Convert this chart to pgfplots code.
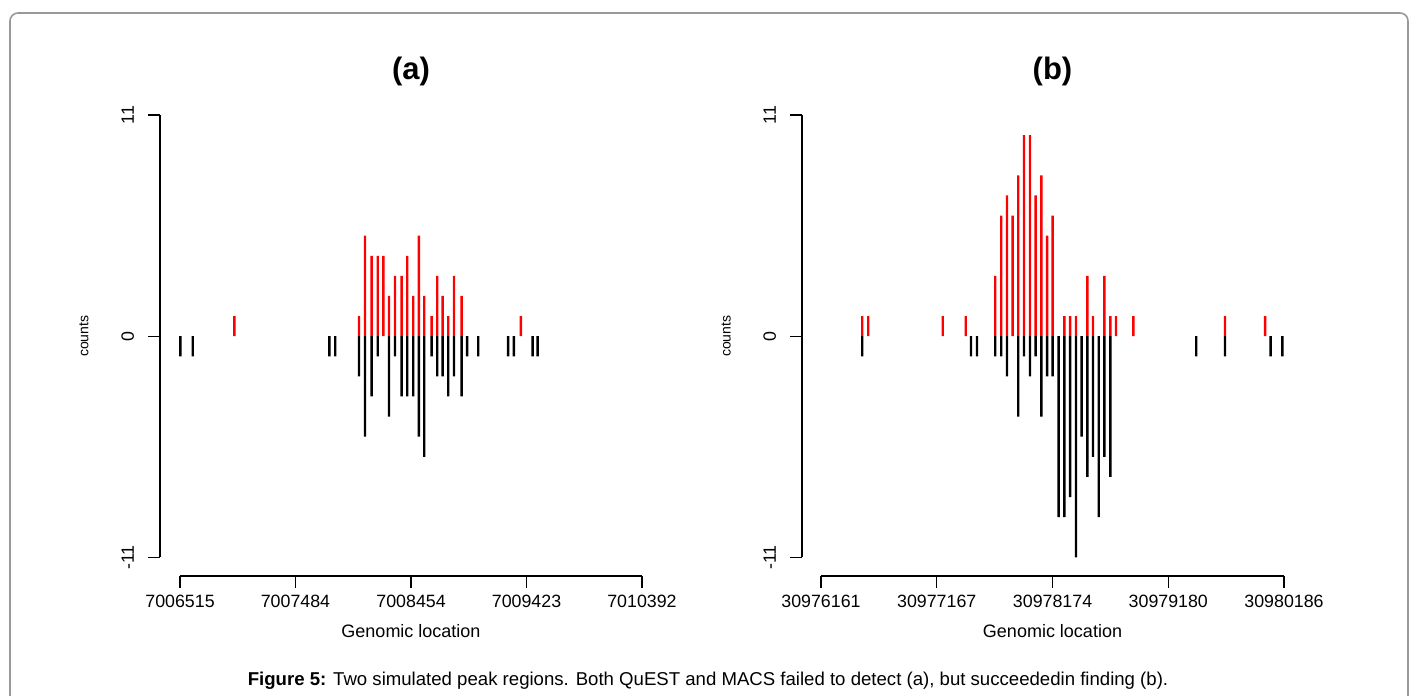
\documentclass[border=0pt]{standalone}
\usepackage{pgfplots}
\pgfplotsset{compat=1.18}
\usepackage{fontspec}
\setmainfont{Liberation Sans}
\pgfplotstableread{
x y
456 1
1502 1
1552 5
1608 4
1659 4
1706 4
1754 2
1804 3
1860 3
1907 4
1957 2
2005 5
2050 2
2112 1
2159 3
2204 2
2251 1
2299 3
2363 2
2861 1
}\posA
\pgfplotstableread{
x y
3 -1
107 -1
1253 -1
1303 -1
1502 -2
1552 -5
1608 -3
1659 -1
1754 -4
1804 -1
1860 -3
1907 -3
1957 -3
2005 -5
2050 -6
2112 -1
2159 -2
2204 -2
2251 -3
2299 -2
2363 -3
2410 -1
2503 -1
2754 -1
2802 -1
2959 -1
3001 -1
}\negA
\pgfplotstableread{
x y
359 1
411 1
1058 1
1258 1
1515 3
1567 6
1617 7
1666 6
1715 8
1765 10
1817 10
1866 7
1915 8
1965 5
2014 6
2115 1
2165 1
2217 1
2315 3
2364 1
2463 3
2515 1
2564 1
2715 1
3512 1
3860 1
}\posB
\pgfplotstableread{
x y
359 -1
1304 -1
1356 -1
1515 -1
1567 -1
1617 -2
1715 -4
1765 -1
1817 -2
1866 -1
1915 -4
1965 -2
2014 -2
2066 -9
2115 -9
2165 -8
2217 -11
2266 -5
2315 -7
2364 -6
2414 -9
2463 -6
2515 -7
3262 -1
3512 -1
3909 -1
4010 -1
}\negB
\pgfplotsset{
  rstyle/.style={
    scale only axis, height=239.8pt,
    ymin=-11.93, ymax=11.93,
    ytick={-11,0,11}, yticklabels={-11,0,11},
    axis line style={draw=none},
    xtick pos=left, ytick pos=left,
    tick align=outside, major tick length=6pt,
    tick style={black, line width=0.6pt},
    clip=false,
    ticklabel style={font=\fontsize{8.9}{10}\selectfont},
    yticklabel style={rotate=90, anchor=south},
    yticklabel shift=3.5pt,
    xlabel={Genomic location}, ylabel={counts},
    xlabel style={font=\fontsize{9}{10}\selectfont, at={(axis description cs:0.5,-0.1147)}, anchor=center},
    ylabel style={font=\fontsize{7}{8}\selectfont, at={(axis description cs:-0.1514,0.5)}, anchor=center},
    title style={font=\bfseries\fontsize{15.5}{18}\selectfont, at={(axis description cs:0.5,1)}, anchor=base, yshift=2.5pt},
  },
  rbar/.style={ybar, bar width=1.2pt, bar shift=0pt, draw=none, fill=#1},
}
\begin{document}
\begin{tikzpicture}
\useasboundingbox (0pt,0pt) rectangle (708pt,347.5pt);
\draw[black!40, line width=0.8pt, rounded corners=4pt] (5pt,-10pt) -- (5pt,341pt) -- (704pt,341pt) -- (704pt,-10pt);
\begin{axis}[rstyle, at={(80pt,59.5pt)}, anchor=south west, width=251pt,
  xmin=-168, xmax=4045,
  xtick={0,969,1939,2908,3877},
  xticklabels={7006515,7007484,7008454,7009423,7010392},
  title={(a)}]
  \addplot[rbar=red] table[x=x,y=y] {\posA};
  \addplot[rbar=black] table[x=x,y=y] {\negA};
  \draw[black, line width=0.6pt] (axis cs:0,-11.93) -- (axis cs:3877,-11.93);
  \draw[black, line width=0.6pt] (axis cs:-168,-11) -- (axis cs:-168,11);
\end{axis}
\begin{axis}[rstyle, at={(401pt,59.5pt)}, anchor=south west, width=250.5pt,
  xmin=-165, xmax=4190,
  xtick={0,1006,2013,3019,4025},
  xticklabels={30976161,30977167,30978174,30979180,30980186},
  title={(b)}]
  \addplot[rbar=red] table[x=x,y=y] {\posB};
  \addplot[rbar=black] table[x=x,y=y] {\negB};
  \draw[black, line width=0.6pt] (axis cs:0,-11.93) -- (axis cs:4025,-11.93);
  \draw[black, line width=0.6pt] (axis cs:-165,-11) -- (axis cs:-165,11);
\end{axis}
\node[font=\fontsize{9.3}{10}\selectfont] at (354pt,7pt) {\textbf{Figure 5:} Two simulated peak regions. Both QuEST and MACS failed to detect (a), but succeededin finding (b).};
\end{tikzpicture}
\end{document}
